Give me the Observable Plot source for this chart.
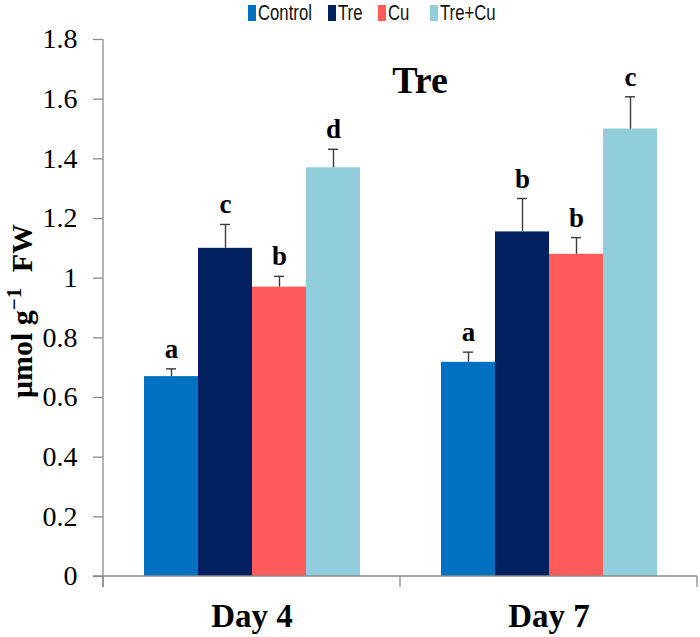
<!DOCTYPE html>
<html><head><meta charset="utf-8">
<script src="https://cdn.jsdelivr.net/npm/d3@7"></script>
<script src="https://cdn.jsdelivr.net/npm/@observablehq/plot@0.6"></script>
<style>
body{margin:0;background:#fff}
#wrap{position:relative;width:700px;height:637px;overflow:hidden}
#wrap svg{position:absolute;left:0;top:0}
.lg-sw{position:absolute;top:5px;width:8px;height:16px}
.lg-tx{position:absolute;top:1px;font-family:"Liberation Sans",Arial,sans-serif;font-size:22px;line-height:24px;
  color:#111;white-space:nowrap;transform:scaleX(0.76);transform-origin:0 50%}
.ylabel{position:absolute;left:20px;top:311px;transform:translate(-50%,-50%) rotate(-90deg);
  font-family:"Liberation Serif","Times New Roman",serif;font-weight:bold;font-size:30px;white-space:nowrap;line-height:1}
.ylabel sup{font-size:21px;margin-right:8px}
.title{position:absolute;left:420px;top:61px;transform:translateX(-50%);
  font-family:"Liberation Serif","Times New Roman",serif;font-weight:bold;font-size:38px;line-height:1}
</style></head><body>
<div id="wrap"></div>
<script>
const days = ["Day 4", "Day 7"];
const treatments = ["Control", "Tre", "Cu", "Tre+Cu"];
const colors = ["#0070C0", "#002060", "#FF5B5B", "#92CDDC"];
const day4Values = [0.67, 1.10, 0.97, 1.37];
const day4Errors = [0.026, 0.08, 0.036, 0.062];
const day4Letters = ["a", "c", "b", "d"];
const day7Values = [0.718, 1.155, 1.08, 1.50];
const day7Errors = [0.034, 0.112, 0.056, 0.108];
const day7Letters = ["a", "b", "b", "c"];
const yTicks = [0, 0.2, 0.4, 0.6, 0.8, 1, 1.2, 1.4, 1.6, 1.8];
const yTickLabels = ["0", "0.2", "0.4", "0.6", "0.8", "1", "1.2", "1.4", "1.6", "1.8"];
const chartTitle = "Tre";
const legendX = [248, 328, 378, 430];

const rows = [];
[[day4Values, day4Errors, day4Letters], [day7Values, day7Errors, day7Letters]].forEach(([vals, errs, lets], di) => {
  treatments.forEach((t, i) => rows.push({day: days[di], treatment: t, value: vals[i], top: vals[i] + errs[i], letter: lets[i]}));
});

const serif = "Liberation Serif, Times New Roman, serif";
const axisGray = "#8a8a8a";

let frameDrawn = false;
const frameLines = (index, scales) => {
  if (index && index.fx !== undefined ? index.fx !== days[0] : frameDrawn) return null;
  frameDrawn = true;
  const g = d3.create("svg:g").attr("stroke", axisGray).attr("stroke-width", 1.3).attr("fill", "none");
  const y0 = scales.y(0), yTop = scales.y(yTicks[yTicks.length - 1]);
  const bw = scales.fx.bandwidth();
  const left = scales.fx(days[0]);
  const right = scales.fx(days[days.length - 1]) + bw;
  g.append("line").attr("x1", left).attr("x2", left).attr("y1", yTop).attr("y2", y0 + 11);
  g.append("line").attr("x1", left - 10).attr("x2", right).attr("y1", y0).attr("y2", y0);
  const edges = days.map(d => scales.fx(d)).concat([right]);
  edges.forEach(x => g.append("line").attr("x1", x).attr("x2", x).attr("y1", y0).attr("y2", y0 + 11));
  return g.node();
};

const chart = Plot.plot({
  width: 700,
  height: 637,
  marginTop: 39,
  marginLeft: 103,
  marginRight: 3,
  marginBottom: 61,
  style: {background: "white", fontFamily: serif, overflow: "visible"},
  fx: {domain: days, padding: 0, label: null},
  x: {domain: treatments, paddingInner: 0, paddingOuter: 0.725, axis: null},
  y: {domain: [0, 1.8]},
  color: {domain: treatments, range: colors},
  marks: [
    Plot.barY(rows, {fx: "day", x: "treatment", y: "value", fill: "treatment"}),
    Plot.ruleX(rows, {fx: "day", x: "treatment", y1: "value", y2: "top", stroke: "#3a3a3a", strokeWidth: 1.4}),
    Plot.tickY(rows, {fx: "day", x: "treatment", y: "top", stroke: "#3a3a3a", strokeWidth: 1.4, insetLeft: 22, insetRight: 22}),
    Plot.text(rows, {fx: "day", x: "treatment", y: "top", text: "letter", lineAnchor: "bottom", dy: -11,
      fontSize: 27, fontWeight: "bold", fontFamily: serif, fill: "black"}),
    Plot.axisY({ticks: yTicks, tickFormat: d => yTickLabels[yTicks.indexOf(d)], tickSize: 10, tickPadding: 16,
      fontSize: 28, fontFamily: serif, stroke: axisGray, fill: "black", label: null, strokeWidth: 1.3}),
    Plot.axisFx({anchor: "bottom", tickSize: 0, tickPadding: 27, fontSize: 33, fontWeight: "bold", fontFamily: serif,
      fill: "black", label: null}),
    frameLines
  ]
});

const wrap = document.getElementById("wrap");
wrap.appendChild(chart);

treatments.forEach((t, i) => {
  const sw = document.createElement("div");
  sw.className = "lg-sw";
  sw.style.left = legendX[i] + "px";
  sw.style.background = colors[i];
  wrap.appendChild(sw);
  const lab = document.createElement("div");
  lab.className = "lg-tx";
  lab.style.left = (legendX[i] + 10) + "px";
  lab.textContent = t;
  wrap.appendChild(lab);
});

const ylab = document.createElement("div");
ylab.className = "ylabel";
ylab.innerHTML = "μmol g<sup>−1</sup> FW";
wrap.appendChild(ylab);

const title = document.createElement("div");
title.className = "title";
title.textContent = chartTitle;
wrap.appendChild(title);
</script>
</body></html>
